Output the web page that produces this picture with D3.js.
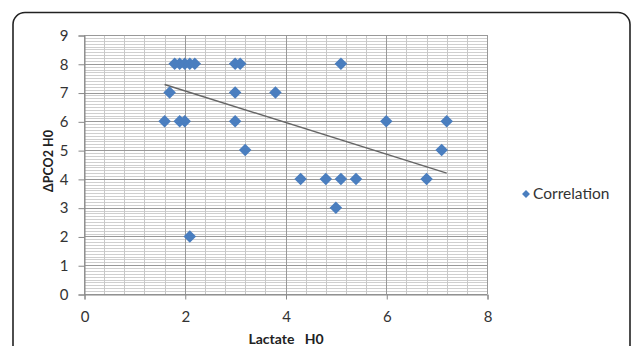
<!DOCTYPE html>
<html><head><meta charset="utf-8">
<script src="https://cdn.jsdelivr.net/npm/d3@7"></script>
<style>body{margin:0;background:#fff}svg{display:block}</style>
</head><body>
<svg id="c" width="632" height="346"></svg>
<script>
const lactate = [1.8,1.9,2.0,2.1,2.2,3.0,3.1,5.1, 1.7,3.0,3.8, 1.6,1.9,2.0,3.0,6.0,7.2, 3.2,7.1, 4.3,4.8,5.1,5.4,6.8, 5.0, 2.1];
const dpco2   = [8,8,8,8,8,8,8,8, 7,7,7, 6,6,6,6,6,6, 5,5, 4,4,4,4,4, 3, 2];
const trendX = [1.6, 7.2];
const trendY = [7.28, 4.2];
const xTicks = [0,2,4,6,8];
const yTicks = [0,1,2,3,4,5,6,7,8,9];
const seriesName = "Correlation";

const svg = d3.select("#c");
const font = "Lato, 'Open Sans', sans-serif";
// outer frame
svg.append("rect").attr("x",13).attr("y",12.5).attr("width",617).attr("height",360)
  .attr("rx",12).attr("fill","#fff").attr("stroke","#222").attr("stroke-width",1.6);

const L=84, R=487, T=35, B=294;
const x = d3.scaleLinear().domain([0,8]).range([L,R]);
const y = d3.scaleLinear().domain([0,9]).range([B,T]);

const g = svg.append("g");
// minor grid
g.selectAll(".hmin").data(d3.range(0,91).map(i=>i/10)).join("line")
  .attr("x1",L).attr("x2",R).attr("y1",d=>Math.round(y(d))+0.5).attr("y2",d=>Math.round(y(d))+0.5)
  .attr("stroke","#cfcfcf").attr("stroke-width",1);
g.selectAll(".vmin").data(d3.range(0,21).map(i=>i*0.4)).join("line")
  .attr("y1",T).attr("y2",B).attr("x1",d=>Math.round(x(d))+0.5).attr("x2",d=>Math.round(x(d))+0.5)
  .attr("stroke","#c8c8c8").attr("stroke-width",1);
// major grid
g.selectAll(".hmaj").data(yTicks).join("line")
  .attr("x1",L).attr("x2",R).attr("y1",d=>Math.round(y(d))+0.5).attr("y2",d=>Math.round(y(d))+0.5)
  .attr("stroke","#999").attr("stroke-width",1);
g.selectAll(".vmaj").data(xTicks).join("line")
  .attr("y1",T).attr("y2",B).attr("x1",d=>Math.round(x(d))+0.5).attr("x2",d=>Math.round(x(d))+0.5)
  .attr("stroke","#999").attr("stroke-width",1);

// axes
const ya = d3.axisLeft(y).tickValues(yTicks).tickSize(6).tickPadding(10).tickFormat(d3.format("d"));
const xa = d3.axisBottom(x).tickValues(xTicks).tickSize(5).tickPadding(10).tickFormat(d3.format("d"));
const gy = svg.append("g").attr("transform",`translate(${L+0.5},0.5)`).call(ya);
const gx = svg.append("g").attr("transform",`translate(0.5,${B+0.5})`).call(xa);
[gy,gx].forEach(a=>{
  a.select(".domain").attr("stroke","#888");
  a.selectAll(".tick line").attr("stroke","#888");
  a.selectAll("text").attr("font-family",font).attr("font-size",15).attr("fill","#333");
});
gx.selectAll("text").attr("dy","0.85em");

// trend line
svg.append("line").attr("x1",x(trendX[0])).attr("y1",y(trendY[0]))
  .attr("x2",x(trendX[1])).attr("y2",y(trendY[1]))
  .attr("stroke","#666").attr("stroke-width",1.4);

// points
const pts = lactate.map((v,i)=>({x:v,y:dpco2[i]}));
const dia = d3.symbol().type(d3.symbolDiamond2).size(100);
svg.append("g").selectAll("path").data(pts).join("path")
  .attr("d",dia).attr("transform",d=>`translate(${x(d.x)},${y(d.y)})`)
  .attr("fill","#4a7ebf");

// axis titles
svg.append("text").attr("x",286).attr("y",344).attr("text-anchor","middle")
  .attr("font-family",font).attr("font-weight","bold").attr("font-size",14).attr("fill","#222")
  .attr("xml:space","preserve").text("Lactate   H0");
svg.append("text").attr("transform","translate(53,161) rotate(-90)").attr("text-anchor","middle")
  .attr("font-family",font).attr("font-weight","bold").attr("font-size",12.5).attr("fill","#222")
  .text("ΔPCO2 H0");

// legend
const lg = svg.append("g").attr("transform","translate(526,194)");
lg.append("path").attr("d",d3.symbol().type(d3.symbolDiamond2).size(40)).attr("fill","#4a7ebf");
lg.append("text").attr("x",7).attr("y",0).attr("dy","0.35em").attr("font-family",font)
  .attr("font-size",15.5).attr("fill","#333").text(seriesName);
</script>
</body></html>
